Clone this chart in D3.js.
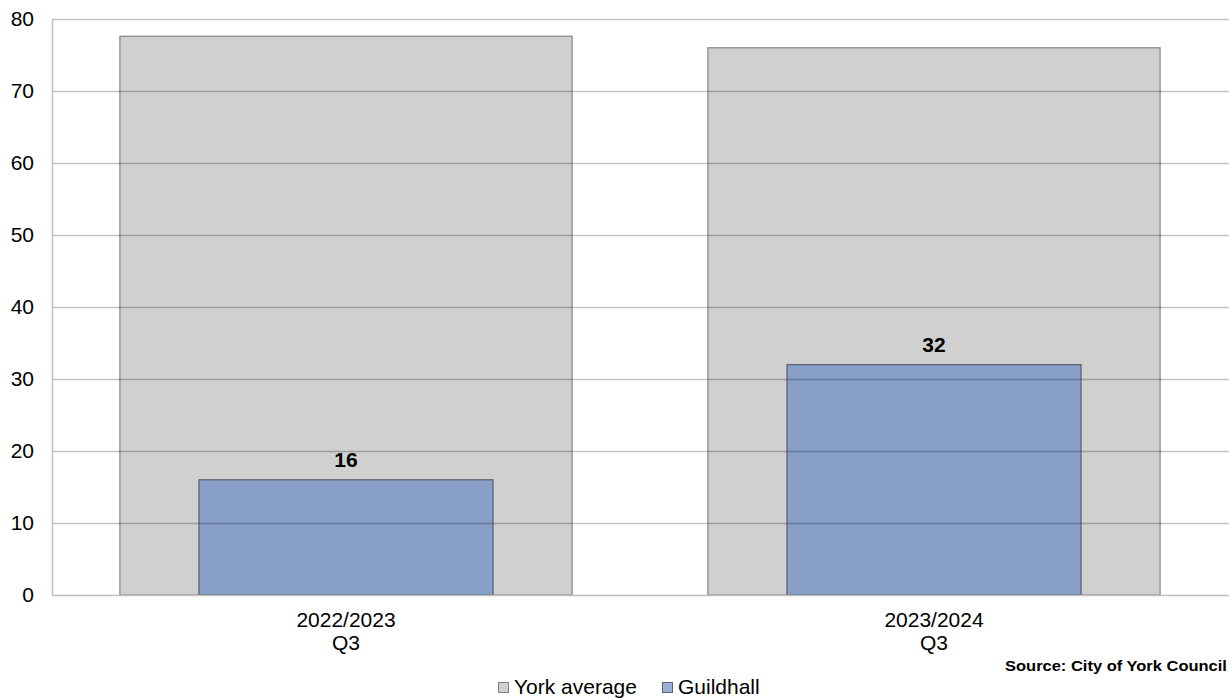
<!DOCTYPE html>
<html>
<head>
<meta charset="utf-8">
<script src="https://cdn.jsdelivr.net/npm/d3@7"></script>
<style>
  body { margin: 0; background: #fff; }
  svg { display: block; font-family: "Liberation Sans", Arial, sans-serif; }
</style>
</head>
<body>
<div id="chartArea"></div>
<script>
// Data
const categories = ["2022/2023|Q3", "2023/2024|Q3"];
const yorkAverage = [77.6, 76.0];
const guildhall = [16, 32];
const yTicks = [0, 10, 20, 30, 40, 50, 60, 70, 80];
const seriesNames = ["York average", "Guildhall"];

const width = 1229,
    height = 699,
    margin = { top: 19, left: 52, bottom: 104, right: 1 };

// text in the original is a bit wider than Arial
const stretch = 1.05;
const place = (px, py, s = stretch) => `translate(${px},${py}) scale(${s},1)`;

const svg = d3.select("#chartArea")
    .append("svg")
    .attr("width", width)
    .attr("height", height);

const x = d3.scaleBand()
    .domain(categories)
    .range([margin.left, width - margin.right])
    .padding(0);

const y = d3.scaleLinear()
    .domain([0, 80])
    .range([height - margin.bottom, margin.top]);

const bw = x.bandwidth();
const greyW = bw * 0.769,
    blueW = bw * 0.5;

// York average bars (behind)
svg.append("g")
    .selectAll("rect")
    .data(yorkAverage)
    .join("rect")
    .attr("x", (d, i) => x(categories[i]) + (bw - greyW) / 2)
    .attr("y", d => y(d))
    .attr("width", greyW)
    .attr("height", d => y(0) - y(d))
    .attr("fill", "#d0d0d0")
    .attr("stroke", "#8c8c8c")
    .attr("stroke-width", 1.3);

// Guildhall bars
svg.append("g")
    .selectAll("rect")
    .data(guildhall)
    .join("rect")
    .attr("x", (d, i) => x(categories[i]) + (bw - blueW) / 2)
    .attr("y", d => y(d))
    .attr("width", blueW)
    .attr("height", d => y(0) - y(d))
    .attr("fill", "#88a0c8")
    .attr("stroke", "#5c6270")
    .attr("stroke-width", 1.3);

// Gridlines on top
svg.append("g")
    .selectAll("line")
    .data(yTicks.filter(d => d > 0))
    .join("line")
    .attr("x1", margin.left)
    .attr("x2", width)
    .attr("y1", d => Math.round(y(d)) + 0.5)
    .attr("y2", d => Math.round(y(d)) + 0.5)
    .attr("stroke", "#000")
    .attr("stroke-opacity", 0.24)
    .attr("stroke-width", 1.5);

// Axis lines
svg.append("line")
    .attr("x1", margin.left + 0.5).attr("x2", margin.left + 0.5)
    .attr("y1", margin.top).attr("y2", y(0))
    .attr("stroke", "#c0c0c0").attr("stroke-width", 1.5);
svg.append("line")
    .attr("x1", margin.left).attr("x2", width)
    .attr("y1", y(0) + 0.5).attr("y2", y(0) + 0.5)
    .attr("stroke", "#c0c0c0").attr("stroke-width", 1.5);

// Y tick labels
svg.append("g")
    .selectAll("text")
    .data(yTicks)
    .join("text")
    .attr("transform", d => place(34, y(d) + 7))
    .attr("text-anchor", "end")
    .style("font-size", "20px")
    .attr("fill", "#000")
    .text(d => d);

// X labels (two lines)
const xl = svg.append("g")
    .selectAll("text")
    .data(categories)
    .join("text")
    .attr("transform", d => place(x(d) + bw / 2, 627))
    .attr("text-anchor", "middle")
    .style("font-size", "20px");
xl.append("tspan")
    .attr("x", 0)
    .attr("y", 0)
    .text(d => d.split("|")[0]);
xl.append("tspan")
    .attr("x", 0)
    .attr("y", 23)
    .text(d => d.split("|")[1]);

// Data labels for Guildhall
svg.append("g")
    .selectAll("text")
    .data(guildhall)
    .join("text")
    .attr("transform", (d, i) => place(x(categories[i]) + bw / 2, y(d) - 13))
    .attr("text-anchor", "middle")
    .style("font-size", "20px")
    .style("font-weight", "bold")
    .text(d => d);

// Source (kept fully inside the frame)
svg.append("text")
    .attr("transform", place(1005, 671, 1.1))
    .style("font-size", "15px")
    .style("font-weight", "bold")
    .text("Source: City of York Council");

// Legend
const legendItems = [
    { name: seriesNames[0], x: 498, fill: "#d0d0d0", stroke: "#808080" },
    { name: seriesNames[1], x: 662, fill: "#9ab0d8", stroke: "#5c6270" }
];
const lg = svg.append("g").attr("id", "legend");
lg.selectAll("rect")
    .data(legendItems)
    .join("rect")
    .attr("x", d => d.x + 0.5)
    .attr("y", 682.5)
    .attr("width", 10)
    .attr("height", 10)
    .attr("fill", d => d.fill)
    .attr("stroke", d => d.stroke);
lg.selectAll("text")
    .data(legendItems)
    .join("text")
    .attr("transform", d => place(d.x + 16, 694))
    .style("font-size", "20px")
    .text(d => d.name);
</script>
</body>
</html>
